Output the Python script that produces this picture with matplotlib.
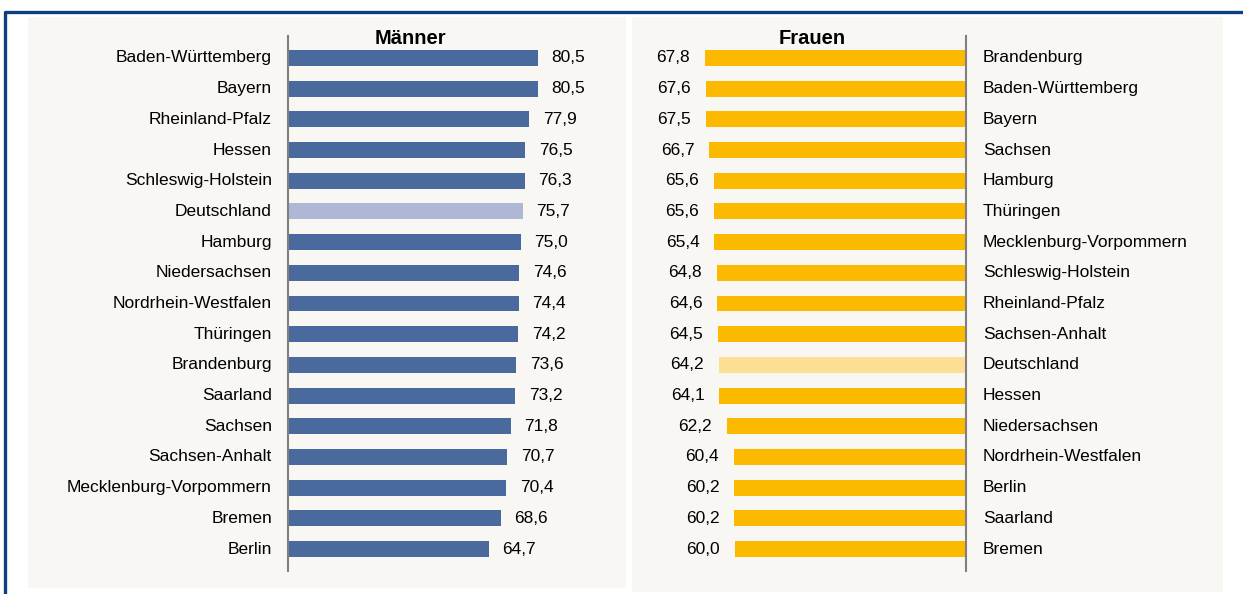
import matplotlib.pyplot as plt
from matplotlib.patches import Rectangle

plt.rcParams['font.family'] = ['Liberation Sans', 'DejaVu Sans']

# Männer
m_laender = ['Baden-Württemberg', 'Bayern', 'Rheinland-Pfalz', 'Hessen', 'Schleswig-Holstein',
             'Deutschland', 'Hamburg', 'Niedersachsen', 'Nordrhein-Westfalen', 'Thüringen',
             'Brandenburg', 'Saarland', 'Sachsen', 'Sachsen-Anhalt', 'Mecklenburg-Vorpommern',
             'Bremen', 'Berlin']
m_werte = [80.5, 80.5, 77.9, 76.5, 76.3, 75.7, 75.0, 74.6, 74.4, 74.2,
           73.6, 73.2, 71.8, 70.7, 70.4, 68.6, 64.7]

# Frauen
f_laender = ['Brandenburg', 'Baden-Württemberg', 'Bayern', 'Sachsen', 'Hamburg', 'Thüringen',
             'Mecklenburg-Vorpommern', 'Schleswig-Holstein', 'Rheinland-Pfalz', 'Sachsen-Anhalt',
             'Deutschland', 'Hessen', 'Niedersachsen', 'Nordrhein-Westfalen', 'Berlin',
             'Saarland', 'Bremen']
f_werte = [67.8, 67.6, 67.5, 66.7, 65.6, 65.6, 65.4, 64.8, 64.6, 64.5,
           64.2, 64.1, 62.2, 60.4, 60.2, 60.2, 60.0]

W, H = 1243, 594
bg = '#F8F7F3'
fs = 12.5
fig = plt.figure(figsize=(W / 100, H / 100), dpi=100)

def fx(px):
    return px / W

def fy(py):
    return 1 - py / H

# panels and frame
fig.patches.append(Rectangle((fx(28), fy(588)), fx(626 - 28), (588 - 17) / H,
                             transform=fig.transFigure, facecolor=bg, edgecolor='none', zorder=-1))
fig.patches.append(Rectangle((fx(632), fy(592)), fx(1223 - 632), (592 - 17) / H,
                             transform=fig.transFigure, facecolor=bg, edgecolor='none', zorder=-1))
fig.lines.append(plt.Line2D([fx(5), fx(5), 1], [0, fy(12), fy(12)], transform=fig.transFigure,
                            color='#0B3F80', lw=2.4))

def fmt(v):
    return f'{v:.1f}'.replace('.', ',')

n = len(m_werte)
ylo, yhi = 36.5, 570.5
ax_h = (yhi - ylo) / H

# Männer
ax1 = fig.add_axes([fx(288), fy(yhi), fx(310), ax_h])
ax1.set_facecolor('none')
farben = ['#AEB8D4' if l == 'Deutschland' else '#4A699C' for l in m_laender]
ax1.barh(range(n), m_werte, height=0.52, color=farben, zorder=2)
ax1.set_xlim(0, 100)
ax1.set_ylim(n - 1 + 0.7, -0.7)
for i, (l, v) in enumerate(zip(m_laender, m_werte)):
    ax1.text(v + 4.5, i, fmt(v), va='center', ha='left', fontsize=fs)
    ax1.text(-5.2, i, l, va='center', ha='right', fontsize=fs)
ax1.set_xticks([])
ax1.set_yticks([])
for s in ['top', 'right', 'bottom']:
    ax1.spines[s].set_visible(False)
ax1.spines['left'].set_color('#808080')
ax1.spines['left'].set_linewidth(1.5)
ax1.text(39.5, -0.32, 'Männer', ha='center', va='bottom', fontsize=14.5, fontweight='bold',
         bbox=dict(facecolor=bg, edgecolor='none', pad=1.5), zorder=3)

# Frauen
ax2 = fig.add_axes([fx(966 - 327), fy(yhi), fx(327), ax_h])
ax2.set_facecolor('none')
farben = ['#FDDF94' if l == 'Deutschland' else '#FBBA00' for l in f_laender]
ax2.barh(range(n), f_werte, height=0.52, color=farben, zorder=2)
ax2.set_xlim(85, 0)
ax2.set_ylim(n - 1 + 0.7, -0.7)
for i, (l, v) in enumerate(zip(f_laender, f_werte)):
    ax2.text(v + 3.9, i, fmt(v), va='center', ha='right', fontsize=fs)
    ax2.text(-4.4, i, l, va='center', ha='left', fontsize=fs)
ax2.set_xticks([])
ax2.set_yticks([])
for s in ['top', 'left', 'bottom']:
    ax2.spines[s].set_visible(False)
ax2.spines['right'].set_color('#808080')
ax2.spines['right'].set_linewidth(1.5)
ax2.text(40, -0.32, 'Frauen', ha='center', va='bottom', fontsize=14.5, fontweight='bold',
         bbox=dict(facecolor=bg, edgecolor='none', pad=1.5), zorder=3)

fig.savefig('out.png', dpi=100)
